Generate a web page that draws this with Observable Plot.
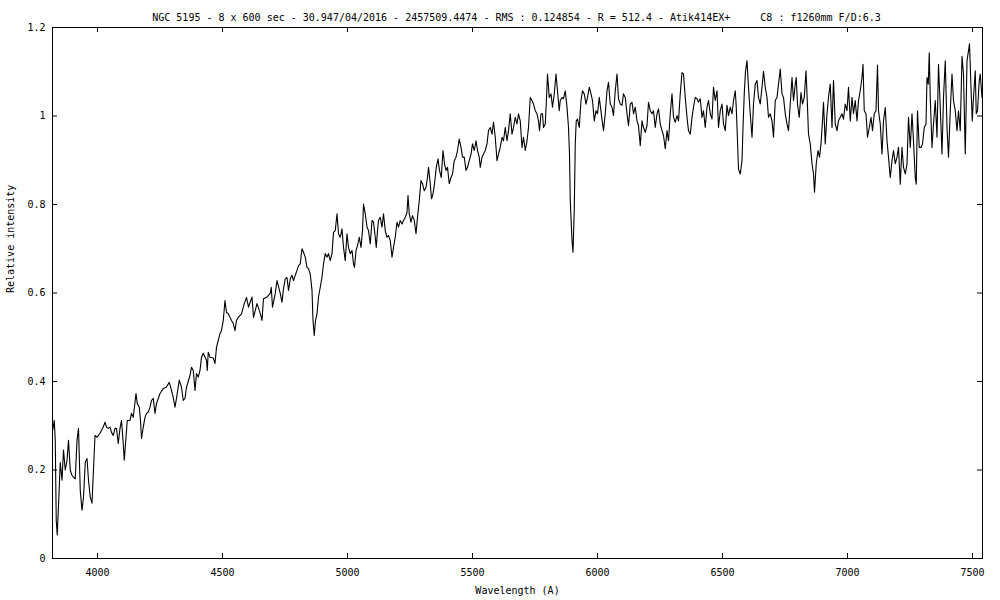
<!DOCTYPE html>
<html>
<head>
<meta charset="utf-8">
<script src="https://cdn.jsdelivr.net/npm/d3@7"></script>
<script src="https://cdn.jsdelivr.net/npm/@observablehq/plot@0.6"></script>
<style>
  html, body { margin: 0; padding: 0; background: #fff; }
  svg text { white-space: pre; }
</style>
</head>
<body>
<div id="chart"></div>
<script>
const title = "NGC 5195 - 8 x 600 sec - 30.947/04/2016 - 2457509.4474 - RMS : 0.124854 - R = 512.4 - Atik414EX+     C8 : f1260mm F/D:6.3";
const xLabel = "Wavelength (A)";
const yLabel = "Relative intensity";
const xTicks = [4000, 4500, 5000, 5500, 6000, 6500, 7000, 7500];
const yTicks = [0, 0.2, 0.4, 0.6, 0.8, 1, 1.2];
const yTickLabels = ["0", "0.2", "0.4", "0.6", "0.8", "1", "1.2"];

const wavelengths = [
3821,3827,3831,3835,3839,3845,3851,3858,3864,3871,3878,3884,3891,3898,3904,3911,3918,3924,3931,3938,3944,3951,3958,3964,3971,3978,
3990,3999,4010,4023,4030,4036,4043,4050,4056,4063,4070,4076,4083,4090,4096,4103,4107,4114,4119,4130,4136,4143,4154,4159,4167,4172,4176,4183,4190,4196,4203,4210,4216,4223,4230,4236,4250,4263,4275,4287,4296,4303,4310,4316,4327,4336,4343,4350,4356,4370,4376,4383,4390,4396,4403,4410,4416,4423,4436,4439,4443,4450,4463,4470,4476,4483,4490,4496,4503,4510,4516,4523,4530,4536,4543,4550,4556,4563,4576,4587,4596,4604,
4618,4624,4638,4651,4658,4664,4678,4691,4695,4700,4711,4718,4731,4738,4744,4751,4758,4764,4771,4778,4784,4791,4798,4804,4811,4818,4824,4831,4838,4844,4851,4858,4862,4867,4872,4878,4884,4891,4898,4904,4911,4918,4924,4931,4938,4944,4951,4958,4964,4971,4978,4984,4991,4998,5004,5011,5018,5024,5028,5034,5040,5047,5054,5060,5064,5071,5078,5084,5091,5098,5104,5111,5115,5120,5124,5131,5138,5144,5151,5158,5164,5171,5178,5184,5191,5198,5204,5211,5218,5224,5231,5238,5242,5247,5254,5260,5267,5274,5280,5287,5294,5300,5307,5314,5320,5324,5331,5336,5342,5348,5355,5362,5368,5375,
5382,5388,5394,5400,5407,5414,5420,5427,5434,5440,5447,5454,5460,5467,5474,5480,5487,5494,5500,5507,5514,5520,5527,5531,5538,5544,5551,5558,5564,5571,5578,5584,5591,5598,5604,5611,5618,5624,5631,5638,5644,5651,5658,5664,5671,5678,5684,5691,5698,5704,5711,5718,5724,5731,5738,5744,5751,5758,5764,5768,5774,5780,5784,5791,5795,5800,5807,5814,5820,5827,5834,5840,5847,5851,5858,5864,5871,5878,5884,5888,5891,5898,5902,5907,5911,5915,5920,5927,5934,5940,5947,5954,5960,5967,5974,5980,5987,5994,6000,6007,
6017,6024,6031,6038,6044,6051,6058,6064,6071,6078,6084,6091,6098,6104,6111,6118,6124,6131,6138,6144,6151,6158,6164,6171,6178,6184,6191,6198,6204,6211,6218,6224,6231,6238,6244,6251,6258,6264,6271,6278,6284,6291,6298,6304,6311,6318,6324,6331,6338,6344,6351,6358,6364,6371,6378,6384,6391,6398,6404,6411,6418,6424,6431,6438,6444,6451,6458,6464,6471,6478,6484,6491,6498,6504,6511,6518,6524,6531,6538,6544,6551,6555,6560,6564,6571,6578,6582,6587,6592,6598,6604,6611,6618,6624,6631,6638,6644,6651,6658,6664,6671,6678,6684,6691,6698,6704,6711,6718,6724,6731,6738,6744,6751,6758,6764,
6771,6778,6784,6791,6795,6800,6807,6814,6820,6827,6834,6838,6844,6851,6858,6864,6868,6875,6882,6888,6894,6900,6904,6911,6918,6924,6931,6938,6944,6951,6958,6964,6971,6978,6984,6991,6998,7004,7011,7018,7024,7031,7038,7044,7051,7058,7062,7067,7074,7080,7087,7094,7100,7107,7114,7120,7124,7131,7138,7144,7151,7158,7164,7171,7178,7184,7191,7198,7204,7211,7218,7224,7231,7238,7244,7251,7258,7264,7271,7275,7280,7287,7294,7300,7307,7314,7318,7323,7327,7331,7338,7344,7351,7358,7364,7371,7378,7384,7391,7398,7404,7411,7418,7424,7431,7438,7444,7451,7458,7464,7471,7478,7484,7488,7494,7499,7504,7511,7515,7520,7527,7531,7538
];

const intensities = [
0.29,0.312,0.267,0.086,0.053,0.132,0.217,0.177,0.245,0.2,0.222,0.267,0.2,0.188,0.184,0.18,0.267,0.294,0.154,0.109,0.138,0.217,0.226,0.177,0.138,0.125,
0.278,0.274,0.283,0.297,0.308,0.297,0.294,0.297,0.285,0.278,0.294,0.294,0.26,0.294,0.312,0.26,0.222,0.274,0.312,0.312,0.328,0.319,0.373,0.35,0.342,0.312,0.271,0.297,0.319,0.328,0.331,0.342,0.357,0.362,0.328,0.35,0.373,0.384,0.387,0.398,0.38,0.364,0.342,0.362,0.403,0.387,0.357,0.362,0.387,0.414,0.432,0.425,0.38,0.418,0.41,0.425,0.455,0.464,0.448,0.425,0.466,0.455,0.453,0.441,0.477,0.493,0.508,0.515,0.538,0.583,0.556,0.553,0.545,0.538,0.531,0.515,0.538,0.545,0.553,0.576,0.59,0.568,
0.591,0.545,0.576,0.554,0.538,0.587,0.591,0.599,0.613,0.568,0.599,0.628,0.599,0.579,0.61,0.632,0.635,0.606,0.632,0.64,0.628,0.64,0.651,0.662,0.666,0.7,0.692,0.681,0.658,0.655,0.643,0.606,0.538,0.504,0.538,0.553,0.591,0.613,0.636,0.666,0.689,0.681,0.689,0.673,0.689,0.737,0.741,0.779,0.734,0.726,0.745,0.703,0.673,0.734,0.703,0.689,0.696,0.666,0.658,0.696,0.707,0.726,0.703,0.741,0.801,0.779,0.749,0.741,0.711,0.764,0.76,0.726,0.703,0.741,0.764,0.771,0.749,0.779,0.741,0.726,0.73,0.719,0.681,0.703,0.726,0.76,0.749,0.764,0.756,0.764,0.771,0.782,0.82,0.779,0.76,0.775,0.764,0.734,0.771,0.809,0.854,0.847,0.831,0.839,0.861,0.884,0.847,0.813,0.824,0.847,0.884,0.903,0.877,0.861,
0.922,0.892,0.877,0.884,0.847,0.861,0.869,0.899,0.907,0.922,0.948,0.929,0.907,0.907,0.877,0.884,0.899,0.914,0.937,0.922,0.944,0.922,0.907,0.884,0.907,0.914,0.922,0.937,0.967,0.974,0.959,0.986,0.952,0.899,0.914,0.929,0.952,0.944,0.974,0.944,0.967,1.005,0.959,0.974,0.997,0.982,1.005,0.989,0.929,0.952,0.922,0.944,0.974,1.042,1.035,1.027,1.012,1.005,0.989,0.967,1.005,1.005,0.974,0.982,1.027,1.095,1.042,1.05,1.02,1.05,1.095,1.057,1.012,1.035,1.042,1.039,1.057,1.02,0.974,0.914,0.809,0.719,0.692,0.786,0.937,0.989,0.993,0.974,1.035,1.057,1.05,1.027,1.042,1.065,1.05,1.035,0.989,1.012,1.005,1.042,
0.997,0.967,1.005,1.057,1.076,1.027,1.02,1.001,1.057,1.095,1.039,1.027,1.024,1.05,1.042,1.005,0.978,1.027,1.031,1.005,1.02,0.989,0.978,0.933,0.989,0.974,0.963,0.978,1.031,1.012,1.005,1.012,0.974,1.005,1.016,0.982,0.967,0.956,0.926,0.967,0.944,1.005,1.05,0.997,0.986,1.001,0.989,1.05,1.098,1.095,1.042,0.997,0.967,0.959,0.997,1.02,1.042,1.039,1.031,1.039,0.997,1.012,0.974,1.02,1.035,1.005,0.993,1.065,1.035,1.057,0.974,1.012,1.027,0.982,0.967,1.024,1.001,1.02,1.005,1.035,1.057,1.02,0.944,0.88,0.869,0.899,0.974,1.05,1.101,1.125,1.065,1.005,0.952,1.027,1.072,1.08,1.042,1.027,1.065,1.101,1.065,1.042,0.997,1.005,0.989,0.952,1.035,1.042,1.072,1.106,1.05,1.042,1.005,0.982,0.967,
1.027,1.087,1.035,1.072,1.087,1.027,0.997,1.053,1.027,1.042,1.102,1.05,0.959,0.937,0.892,0.869,0.828,0.892,0.922,0.907,0.937,0.989,1.031,0.937,1.005,1.042,1.072,0.974,1.08,0.982,0.967,0.989,0.997,1.005,0.993,1.027,1.012,1.065,0.989,1.042,1.005,1.035,0.989,1.035,1.057,1.087,1.117,1.012,1.005,0.952,0.974,0.997,0.967,1.005,1.012,1.115,1.012,0.982,0.914,0.989,1.019,0.944,0.907,0.861,0.899,0.922,0.892,0.907,0.929,0.846,0.929,0.884,0.869,0.892,0.997,0.929,1.005,0.944,0.861,0.846,1.012,0.929,0.929,0.937,0.974,0.982,1.087,1.072,1.143,1.042,0.929,0.982,1.035,0.952,1.117,1.019,0.914,1.042,1.125,0.974,0.907,1.012,1.095,1.035,1.012,0.967,1.012,0.967,1.135,1.095,0.914,1.125,1.147,1.163,1.065,0.989,1.042,1.102,1.005,1.012,1.08,1.095,1.042
];

const spectrum = wavelengths.map((w, i) => ({w, v: intensities[i]}));

const W = 1000, H = 600, mL = 52, mR = 18, mT = 27, mB = 42;
const fw = W - mL - mR, fh = H - mT - mB, tick = 5;

const chart = Plot.plot({
  width: W, height: H,
  marginLeft: mL, marginRight: mR, marginTop: mT, marginBottom: mB,
  style: {fontFamily: "'DejaVu Sans Mono', monospace", fontSize: "10px", color: "black", background: "white", overflow: "visible"},
  x: {domain: [3820, 7540], axis: null},
  y: {domain: [0, 1.2], axis: null},
  marks: [
    Plot.line(spectrum, {x: "w", y: "v", stroke: "black", strokeWidth: 1.1}),
    Plot.tickX(xTicks, {x: d => d, insetTop: fh - tick, stroke: "black"}),
    Plot.tickX(xTicks, {x: d => d, insetBottom: fh - tick, stroke: "black"}),
    Plot.tickY(yTicks, {y: d => d, insetRight: fw - tick, stroke: "black"}),
    Plot.tickY(yTicks, {y: d => d, insetLeft: fw - tick, stroke: "black"}),
    Plot.frame({stroke: "black", strokeWidth: 1}),
    Plot.text(xTicks, {x: d => d, text: d => String(d), frameAnchor: "bottom", dy: 17, fill: "black"}),
    Plot.text(yTicks, {y: d => d, text: (d, i) => yTickLabels[i], frameAnchor: "left", textAnchor: "end", dx: -7, fill: "black"}),
    Plot.text([title], {text: d => d, frameAnchor: "top", dy: -14, dx: -1, fill: "black"}),
    Plot.text([xLabel], {text: d => d, frameAnchor: "bottom", dy: 35, fill: "black"}),
    Plot.text([yLabel], {text: d => d, frameAnchor: "left", rotate: -90, dx: -42, fill: "black"})
  ]
});
document.getElementById("chart").appendChild(chart);
</script>
</body>
</html>
